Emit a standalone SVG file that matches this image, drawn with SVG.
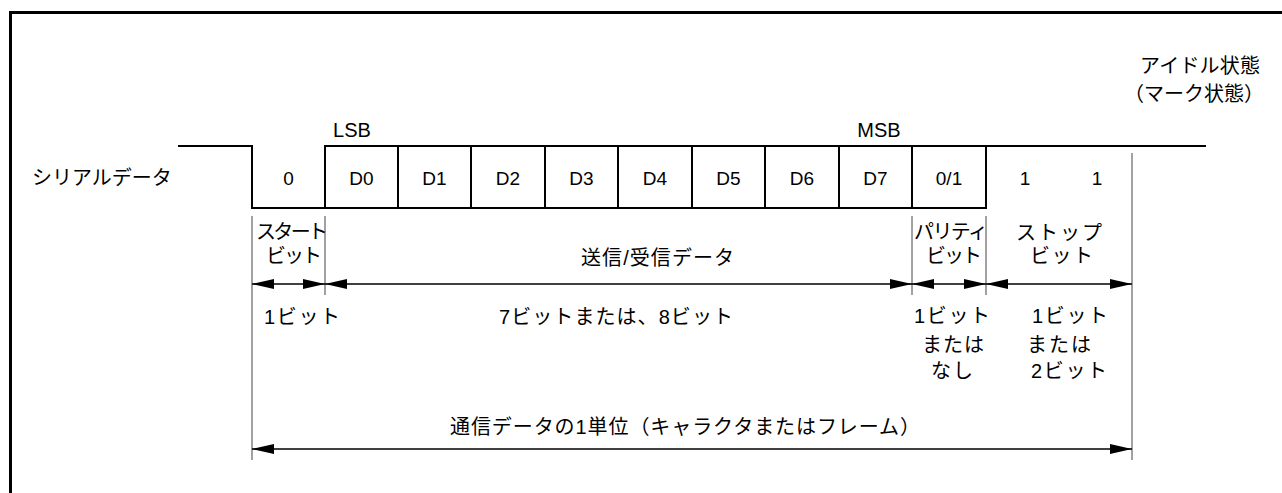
<svg xmlns="http://www.w3.org/2000/svg" width="1282" height="493" viewBox="0 0 1282 493">
  <style>
    .jp { font-family: "Liberation Sans", "Noto Sans CJK JP", sans-serif; font-size: 20px; fill: #000; }
    .lat { font-family: "Liberation Sans", Arial, sans-serif; font-size: 19px; fill: #000; text-anchor: middle; }
    .big { font-size: 20px; }
    .sig { fill: none; stroke: #000; stroke-width: 2; }
    .ext { fill: none; stroke: #444; stroke-width: 1; }
    .dim { fill: none; stroke: #000; stroke-width: 1.3; marker-start: url(#ah); marker-end: url(#ah); }
    .mid { text-anchor: middle; }
  </style>
  <defs>
    <marker id="ah" markerUnits="userSpaceOnUse" markerWidth="22" markerHeight="10" refX="22" refY="5" orient="auto-start-reverse" viewBox="0 0 22 10">
      <path d="M0,0 L22,5 L0,10 Z" fill="#000"/>
    </marker>
  </defs>

  <rect id="frame" x="10.5" y="12.5" width="1300" height="500" fill="none" stroke="#000" stroke-width="3"/>

  <g id="signal">
    <path class="sig" d="M178,146 H252 V208 H986 V146"/>
    <path class="sig" d="M325,208 V146 H1206"/>
    <path class="sig" d="M398,146 V208 M471,146 V208 M545,146 V208 M618,146 V208 M692,146 V208 M765,146 V208 M839,146 V208 M912,146 V208"/>
  </g>

  <g id="signal-label">
    <text class="jp" x="32" y="185">シリアルデータ</text>
  </g>

  <g id="idle-label">
    <text class="jp" x="1140" y="73" textLength="120">アイドル状態</text>
    <text class="jp" x="1124" y="101" textLength="140">（マーク状態）</text>
  </g>

  <g id="bit-marks">
    <text class="lat big" x="352" y="137">LSB</text>
    <text class="lat big" x="879" y="137">MSB</text>
  </g>

  <g id="cells">
    <text class="lat" x="288.5" y="185">0</text>
    <text class="lat" x="361.5" y="185">D0</text>
    <text class="lat" x="434.5" y="185">D1</text>
    <text class="lat" x="508" y="185">D2</text>
    <text class="lat" x="581.5" y="185">D3</text>
    <text class="lat" x="655" y="185">D4</text>
    <text class="lat" x="728.5" y="185">D5</text>
    <text class="lat" x="802" y="185">D6</text>
    <text class="lat" x="875.5" y="185">D7</text>
    <text class="lat" x="949" y="185">0/1</text>
    <text class="lat" x="1025" y="185">1</text>
    <text class="lat" x="1097" y="185">1</text>
  </g>

  <g id="connectors">
    <path class="ext" d="M252,216 V460 M325,216 V295 M912,216 V295 M986,216 V295 M1132,153 V460"/>
    <line class="dim" x1="252" y1="284" x2="325" y2="284"/>
    <line class="dim" x1="325" y1="284" x2="912" y2="284"/>
    <line class="dim" x1="912" y1="284" x2="986" y2="284"/>
    <line class="dim" x1="986" y1="284" x2="1132" y2="284"/>
    <line class="dim" x1="252" y1="449" x2="1132" y2="449"/>
  </g>

  <g id="start-bit">
    <text class="jp" x="256" y="239" textLength="72">スタート</text>
    <text class="jp" x="266" y="263" textLength="56">ビット</text>
    <text class="jp" x="264" y="324" textLength="76">1ビット</text>
  </g>

  <g id="data-bits">
    <text class="jp mid" x="657.5" y="265" textLength="153">送信/受信データ</text>
    <text class="jp mid" x="616" y="324" textLength="234">7ビットまたは、8ビット</text>
  </g>

  <g id="parity-bit">
    <text class="jp" x="914" y="239" textLength="74">パリティ</text>
    <text class="jp" x="926" y="263" textLength="56">ビット</text>
    <text class="jp" x="914" y="323" textLength="76">1ビット</text>
    <text class="jp" x="922" y="352" textLength="62">または</text>
    <text class="jp" x="931" y="378" textLength="42">なし</text>
  </g>

  <g id="stop-bit">
    <text class="jp" x="1016" y="240" textLength="86">ストップ</text>
    <text class="jp" x="1030" y="263" textLength="63">ビット</text>
    <text class="jp" x="1032" y="323" textLength="76">1ビット</text>
    <text class="jp" x="1027" y="352" textLength="64">または</text>
    <text class="jp" x="1031" y="378" textLength="76">2ビット</text>
  </g>

  <g id="frame-label">
    <text class="jp mid" x="685" y="434" textLength="470">通信データの1単位（キャラクタまたはフレーム）</text>
  </g>
</svg>
